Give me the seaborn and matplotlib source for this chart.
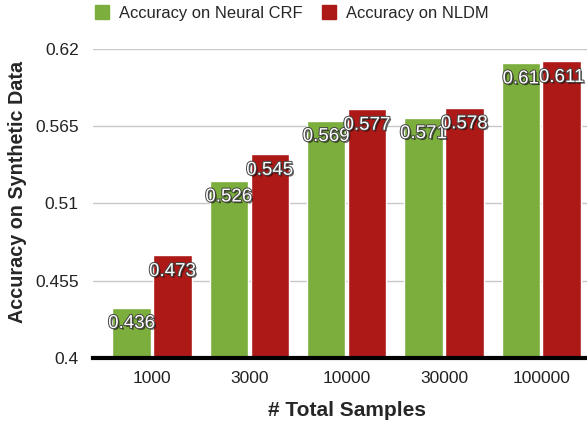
import pandas as pd
import matplotlib.pyplot as plt
import matplotlib.patheffects as pe
import matplotlib.patches as mpatches
import seaborn as sns

samples = ['1000', '3000', '10000', '30000', '100000']
series_names = ['Accuracy on Neural CRF', 'Accuracy on NLDM']
acc_crf = [0.436, 0.526, 0.569, 0.571, 0.61]
acc_nldm = [0.473, 0.545, 0.577, 0.578, 0.611]
yticks = [0.4, 0.455, 0.51, 0.565, 0.62]
ytick_labels = ['0.4', '0.455', '0.51', '0.565', '0.62']
colors = ['#7BAE3C', '#AC1917']

df = pd.DataFrame({
    'samples': samples * 2,
    'series': [series_names[0]] * 5 + [series_names[1]] * 5,
    'acc': acc_crf + acc_nldm,
})

sns.set_style('white')
plt.rcParams['font.family'] = ['Liberation Sans', 'DejaVu Sans']

fig = plt.figure(figsize=(5.87, 4.32), dpi=100)
ax = fig.add_axes([0.158, 0.171, 0.842, 0.716])

sns.barplot(data=df, x='samples', y='acc', hue='series', order=samples,
            hue_order=series_names, palette=colors, width=0.84, gap=0.06,
            saturation=1, ax=ax, legend=False, zorder=3)

ax.set_ylim(0.4, 0.62)
ax.set_xlim(-0.61, 4.47)
ax.set_yticks(yticks)
ax.set_yticklabels(ytick_labels)
ax.yaxis.grid(True, color='#c8c8c8', linewidth=1, zorder=0)
ax.set_axisbelow(True)
for s in ['top', 'right', 'left']:
    ax.spines[s].set_visible(False)
ax.spines['bottom'].set_color('black')
ax.spines['bottom'].set_linewidth(3)
ax.spines['bottom'].set_zorder(5)
ax.tick_params(axis='both', length=0, labelsize=12.5, colors='#222222')
ax.tick_params(axis='y', pad=10)
ax.tick_params(axis='x', pad=9)

ax.set_xlabel('# Total Samples', fontsize=15, fontweight='bold')
ax.xaxis.set_label_coords(0.514, -0.14)
ax.set_ylabel('Accuracy on Synthetic Data', fontsize=14.2, fontweight='bold')
ax.yaxis.set_label_coords(-0.133, 0.536)

# value labels: white text with dark shadow, just below bar top
shadow = [pe.SimplePatchShadow(offset=(1.2, -1.2), shadow_rgbFace='black', alpha=0.6),
          pe.withStroke(linewidth=1.4, foreground='#444444')]
for bar in ax.patches:
    h = bar.get_height()
    if h <= 0:
        continue
    ax.annotate(f"{h:g}", (bar.get_x() + bar.get_width() / 2, h),
                xytext=(0, -16), textcoords='offset pixels',
                ha='center', va='center', fontsize=13.5, color='white', zorder=6,
                path_effects=shadow)

handles = [mpatches.Patch(color=c, label=n) for c, n in zip(colors, series_names)]
fig.legend(handles=handles, loc='upper center', bbox_to_anchor=(0.497, 1.022), ncol=2,
           frameon=False, fontsize=11.9, handlelength=0.85, handleheight=0.85,
           columnspacing=1.2, handletextpad=0.6)

fig.savefig('out.png', dpi=100)
